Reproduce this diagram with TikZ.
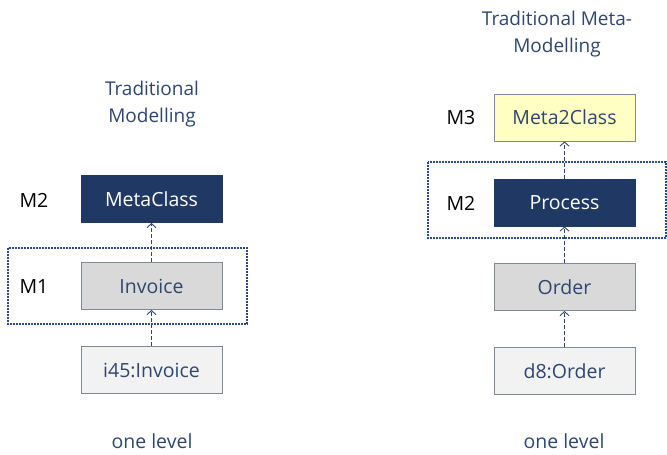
\documentclass[tikz,border=0pt]{standalone}
\usepackage{fontspec}
\setmainfont{Open Sans}
\usetikzlibrary{arrows.meta}
\definecolor{navy}{HTML}{1F3864}
\definecolor{txtblue}{HTML}{2E4670}
\definecolor{dotblue}{HTML}{2C4A86}
\definecolor{boxborder}{HTML}{7F8896}
\definecolor{graybox}{HTML}{D9D9D9}
\definecolor{lightbox}{HTML}{F2F2F2}
\definecolor{yellowbox}{HTML}{FFFFC4}
\begin{document}
\begin{tikzpicture}[x=1pt,y=-1pt,
  every node/.style={font=\fontsize{19.5}{23}\selectfont},
  cls/.style={draw=boxborder,line width=1pt,minimum width=141pt,minimum height=47pt,inner sep=0pt,text=txtblue},
  darkcls/.style={cls,draw=navy,fill=navy,text=white},
  graycls/.style={cls,fill=graybox},
  lightcls/.style={cls,fill=lightbox},
  yellowcls/.style={cls,fill=yellowbox},
  lvl/.style={text=black},
  title/.style={text=txtblue,align=center,font=\fontsize{19}{27}\selectfont},
  inst/.style={draw=txtblue,line width=0.9pt,dash pattern=on 4pt off 2pt,-{Straight Barb[length=4pt,width=9pt]}},
  grp/.style={draw=dotblue,line width=2pt,dash pattern=on 1.8pt off 1.2pt}
]
\useasboundingbox (0,0) rectangle (667,455);
% left column
\node[title] (t1) at (152,104) {Traditional\\Modelling};
\node[darkcls] (metaclass) at (151.5,199) {MetaClass};
\node[graycls] (invoice) at (151.5,286) {Invoice};
\node[lightcls] (i45) at (151.5,370) {i45:Invoice};
\node[lvl] (m2a) at (34,200) {M2};
\node[lvl] (m1) at (34,287) {M1};
\draw[grp] (8,248) rectangle (247,324);
\draw[inst] (i45) -- (invoice);
\draw[inst] (invoice) -- (metaclass);
\node[text=txtblue] (ol1) at (152,441) {one level};
% right column
\node[title] (t2) at (557,34) {Traditional Meta-\\Modelling};
\node[yellowcls] (meta2) at (564.5,117.5) {Meta2Class};
\node[darkcls] (process) at (564.5,202.5) {Process};
\node[graycls] (order) at (564.5,287) {Order};
\node[lightcls] (d8) at (564.5,371) {d8:Order};
\node[lvl] (m3) at (461,118) {M3};
\node[lvl] (m2b) at (461,203) {M2};
\draw[grp] (428,162) rectangle (666,238);
\draw[inst] (d8) -- (order);
\draw[inst] (order) -- (process);
\draw[inst] (process) -- (meta2);
\node[text=txtblue] (ol2) at (564,441) {one level};
\end{tikzpicture}
\end{document}
